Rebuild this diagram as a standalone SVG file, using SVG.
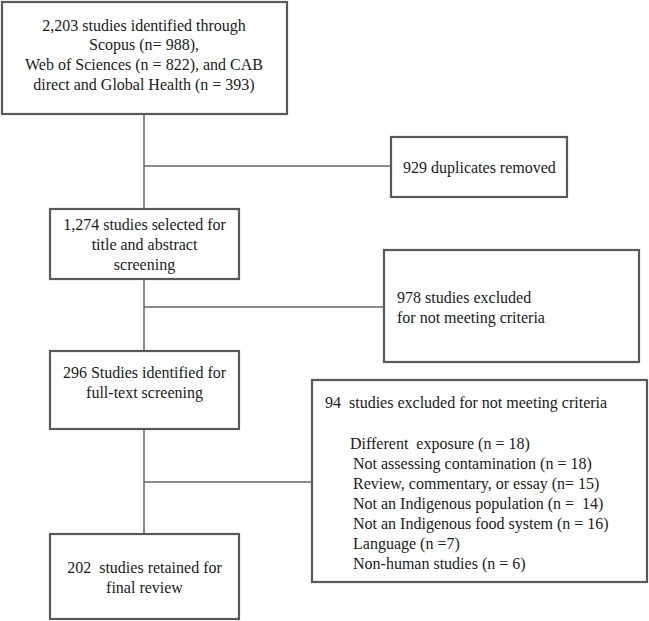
<svg xmlns="http://www.w3.org/2000/svg" width="649" height="621" viewBox="0 0 649 621">
<style>
.box{fill:#fff;stroke:#595959;stroke-width:2.2}
.ln{fill:none;stroke:#666;stroke-width:1.5}
text{font-family:"Liberation Serif","DejaVu Serif",serif;font-size:16px;fill:#1a1a1a;white-space:pre}
.c{text-anchor:middle}
</style>
<rect width="649" height="621" fill="#fff"/>
<g id="connectors">
<line class="ln" x1="144" y1="115" x2="144" y2="534"/>
<line class="ln" x1="144" y1="166" x2="391" y2="166"/>
<line class="ln" x1="144" y1="307" x2="384" y2="307"/>
<line class="ln" x1="144" y1="482" x2="312" y2="482"/>
</g>
<g id="identified">
<rect class="box" x="2" y="2" width="285" height="112"/>
<text class="c" x="144" y="31">2,203 studies identified through</text>
<text class="c" x="144" y="50">Scopus (n= 988),</text>
<text class="c" x="144" y="70">Web of Sciences (n = 822), and CAB</text>
<text class="c" x="144" y="90">direct and Global Health (n = 393)</text>
</g>
<g id="duplicates">
<rect class="box" x="391" y="137" width="176" height="60"/>
<text x="403" y="173">929 duplicates removed</text>
</g>
<g id="screening">
<rect class="box" x="50" y="209" width="189" height="70"/>
<text class="c" x="144.5" y="230">1,274 studies selected for</text>
<text class="c" x="144.5" y="250">title and abstract</text>
<text class="c" x="144.5" y="270">screening</text>
</g>
<g id="excluded1">
<rect class="box" x="384" y="250" width="255" height="112"/>
<text x="397" y="303">978 studies excluded</text>
<text x="397" y="323">for not meeting criteria</text>
</g>
<g id="fulltext">
<rect class="box" x="50" y="351" width="189" height="78"/>
<text class="c" x="144.5" y="378">296 Studies identified for</text>
<text class="c" x="144.5" y="398">full-text screening</text>
</g>
<g id="excluded2">
<rect class="box" x="312" y="380" width="335" height="202"/>
<text x="325" y="408">94  studies excluded for not meeting criteria</text>
<text x="350" y="449">Different  exposure (n = 18)</text>
<text x="353" y="469">Not assessing contamination (n = 18)</text>
<text x="353" y="489">Review, commentary, or essay (n= 15)</text>
<text x="353" y="509">Not an Indigenous population (n =  14)</text>
<text x="353" y="529">Not an Indigenous food system (n = 16)</text>
<text x="353" y="549">Language (n =7)</text>
<text x="353" y="569">Non-human studies (n = 6)</text>
</g>
<g id="retained">
<rect class="box" x="50" y="534" width="189" height="85"/>
<text class="c" x="144.5" y="573">202  studies retained for</text>
<text class="c" x="144.5" y="593">final review</text>
</g>
</svg>
